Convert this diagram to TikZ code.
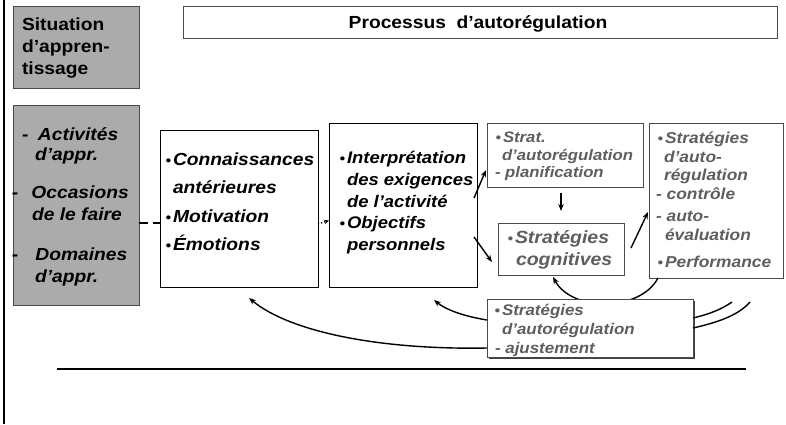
\documentclass[tikz,border=0pt]{standalone}
\usepackage{fontspec}
\setmainfont{Liberation Sans}[FakeStretch=1.1]
\usetikzlibrary{calc,arrows.meta,shadows}
\definecolor{boxgray}{HTML}{ABABAB}
\definecolor{txtgray}{HTML}{5E5E5E}
\definecolor{edgegray}{HTML}{4A4A4A}
\newcommand\hbul{\makebox[0pt][r]{\fontsize{14}{14}\selectfont\textbullet\hspace{2pt}}}
\newcommand\fsit{\fontsize{17.5}{20}\selectfont\bfseries}
\newcommand\fbig{\fontsize{17.5}{20}\selectfont\bfseries\itshape}
\newcommand\fint{\fontsize{16.8}{20}\selectfont\bfseries\itshape}
\newcommand\fplan{\fontsize{15.2}{18}\selectfont\bfseries\itshape}
\newcommand\fcog{\fontsize{17.7}{20}\selectfont\bfseries\itshape}
\newcommand\fctrl{\fontsize{15.8}{18}\selectfont\bfseries\itshape}
\newcommand\faj{\fontsize{15.4}{18}\selectfont\bfseries\itshape}
\begin{document}
\begin{tikzpicture}[x=1pt,y=-1pt,
  box/.style={draw, line width=1pt, fill=white, anchor=north west, inner sep=0pt, outer sep=0pt},
  graybox/.style={box, draw=edgegray, fill=boxgray, line width=0.9pt},
  lt/.style={anchor=base west, inner sep=0pt, outer sep=0pt},
  gt/.style={lt, text=txtgray},
  arr/.style={line width=1.4pt, -{Stealth[length=7pt,width=5.5pt]}},
  ]
\useasboundingbox (0,0) rectangle (786,424);
\fill[white] (0,0) rectangle (786,424);
% left border
\draw[line width=2pt] (3.5,0) -- (3.5,424);

% Situation box
\node[graybox, minimum width=126pt, minimum height=82pt] (sit) at (13,6) {};
\node[lt, font=\fsit] (s1) at (22,30) {Situation};
\node[lt, font=\fsit] (s2) at (22,52) {d’appren-};
\node[lt, font=\fsit] (s3) at (22,74) {tissage};

% Title
\node[box, draw=edgegray, line width=0.9pt, minimum width=594pt, minimum height=32pt] (title) at (183,6) {};
\node[anchor=base, inner sep=0pt, font=\fsit] (tt) at (478,28) {Processus\hspace{0.6em}d’autorégulation};

% Activities box
\node[graybox, minimum width=126pt, minimum height=200pt] (act) at (13,105) {};
\node[lt, font=\fbig] (a1) at (22,140) {-\hspace{9.6pt}Activités};
\node[lt, font=\fbig] (a2) at (35,160) {d’appr.};
\node[lt, font=\fbig] (a3) at (12,198) {-\hspace{13pt}Occasions};
\node[lt, font=\fbig] (a4) at (32,220) {de le faire};
\node[lt, font=\fbig] (a5) at (12,260) {-\hspace{17pt}Domaines};
\node[lt, font=\fbig] (a6) at (35,282) {d’appr.};

% Connaissances box
\node[box, minimum width=158pt, minimum height=157pt] (conn) at (160,130) {};
\node[lt, font=\fbig] (c1) at (173,165) {\hbul Connaissances};
\node[lt, font=\fbig] (c2) at (173,193) {antérieures};
\node[lt, font=\fbig] (c3) at (173,222) {\hbul Motivation};
\node[lt, font=\fbig] (c4) at (173,250) {\hbul Émotions};

% Interpretation box
\node[box, minimum width=148pt, minimum height=164pt] (interp) at (329,123) {};
\node[lt, font=\fint] (i1) at (347,163) {\hbul Interprétation};
\node[lt, font=\fint] (i2) at (347,185) {des exigences};
\node[lt, font=\fint] (i3) at (347,207) {de l’activité};
\node[lt, font=\fint] (i4) at (347,228) {\hbul Objectifs};
\node[lt, font=\fint] (i5) at (347,250) {personnels};

% Planification box
\node[box, draw=edgegray, minimum width=156pt, minimum height=64pt] (plan) at (487,123) {};
\node[gt, font=\fplan] (p1) at (503,142) {\hbul Strat.};
\node[gt, font=\fplan] (p2) at (502,160) {d’autorégulation};
\node[gt, font=\fplan] (p3) at (495,177) {- planification};

% Cognitive box
\node[box, draw=edgegray, minimum width=126pt, minimum height=52pt] (cog) at (498,223) {};
\node[gt, font=\fcog] (g1) at (515,243) {\hbul Stratégies};
\node[gt, font=\fcog] (g2) at (516,265) {cognitives};

% Control box
\node[box, draw=edgegray, minimum width=134pt, minimum height=155pt] (ctrl) at (649,123) {};
\node[gt, font=\fctrl] (k1) at (665,143) {\hbul Stratégies};
\node[gt, font=\fctrl] (k2) at (664,162) {d’auto-};
\node[gt, font=\fctrl] (k3) at (664,180) {régulation};
\node[gt, font=\fctrl] (k4) at (656,199) {- contrôle};
\node[gt, font=\fctrl] (k5) at (656,221) {- auto-};
\node[gt, font=\fctrl] (k6) at (665,240) {évaluation};
\node[gt, font=\fctrl] (k7) at (665,267) {\hbul Performance};

% connectors among upper boxes
\draw[line width=1.7pt, dash pattern=on 9pt off 5pt] ($(act.east)+(0,18)$) -- ($(conn.west)+(0,14.5)$);
\draw[line width=1.2pt, dotted, -{Stealth[length=5pt,width=4.5pt]}] ($(conn.east)+(0,15.5)$) -- ($(interp.west)+(0,15.5)$);
\draw[arr] ($(interp.east)+(-3,-7)$) -- ($(plan.west)+(-1,15)$);
\draw[arr] ($(interp.east)+(-3,32)$) -- ($(cog.west)+(-6,13)$);
\draw[arr] ($(plan.south)+(-4,6)$) -- ($(cog.north)+(0,-12)$);
\draw[arr] ($(cog.east)+(7,-1)$) -- ($(ctrl.west)+(-1,11.5)$);

% loop under cognitive box
\coordinate (lpS) at ($(ctrl.south west)+(9,0)$);
\coordinate (lpE) at ($(cog.south)+(-8,2)$);
\draw[arr] (lpS) .. controls (640,312) and (572,312) .. (lpE);

% Ajustement box
\node[box, draw=edgegray, minimum width=206pt, minimum height=58pt,
      drop shadow={shadow xshift=1.5pt, shadow yshift=-1.5pt, fill=black!75, opacity=1}] (ajust) at (487,299) {};
\node[gt, font=\faj] (j1) at (502,315) {\hbul Stratégies};
\node[gt, font=\faj] (j2) at (502,334) {d’autorégulation};
\node[gt, font=\faj] (j3) at (495,353) {- ajustement};

% right open curves
\coordinate (r1) at (732,302);
\coordinate (r2) at (750,302);
\draw[line width=1.4pt] ($(ajust.east)+(0,-10)$) .. controls (710,314) and (722,309) .. (r1);
\draw[line width=1.4pt] (ajust.east) .. controls (715,323) and (738,316) .. (r2);

% feedback arrows
\coordinate (fb1) at ($(interp.south)+(31,13)$);
\coordinate (fb2) at ($(conn.south)+(10,11)$);
\draw[arr] ($(ajust.west)+(0,-8)$) .. controls (462,316) and (445,309) .. (fb1);
\draw[arr] ($(ajust.west)+(0,20)$) .. controls (380,350) and (290,332) .. (fb2);

% bottom rule
\draw[line width=1.2pt] (57,369) -- (746,369);
\end{tikzpicture}
\end{document}
